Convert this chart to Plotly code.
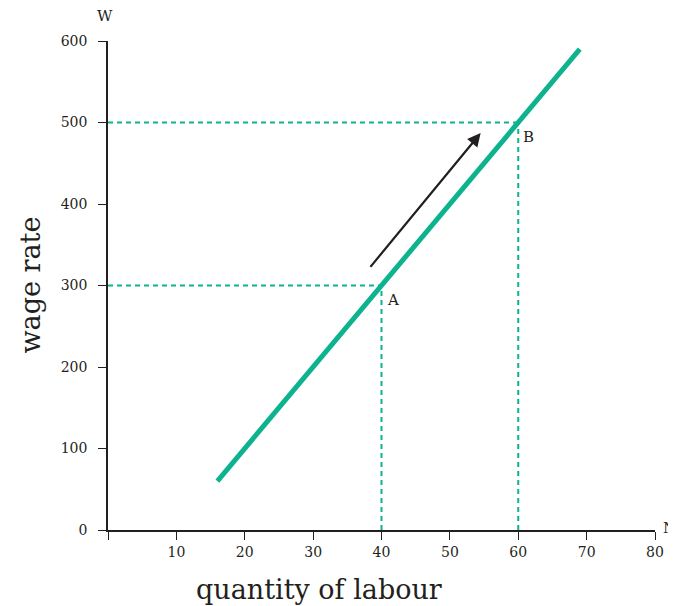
import plotly.graph_objects as go

# supply curve of labour
labour = [16, 69]
wage = [60, 590]

# points A and B
point_names = ["A", "B"]
point_labour = [40, 60]
point_wage = [300, 500]

# arrow showing movement along the curve
arrow_start = (38.2, 321)
arrow_end = (54.5, 487)

x_ticks = [0, 10, 20, 30, 40, 50, 60, 70, 80]
x_tick_labels = ["", "10", "20", "30", "40", "50", "60", "70", "80"]
y_ticks = [0, 100, 200, 300, 400, 500, 600]

teal = "#0db38e"
ink = "#231f20"
serif = "DejaVu Serif, Liberation Serif, serif"

fig = go.Figure()

# dashed guide lines to each axis
for px_, py_ in zip(point_labour, point_wage):
    fig.add_trace(go.Scatter(x=[0, px_], y=[py_, py_], mode="lines",
                             line=dict(color=teal, width=2, dash="5px,4px"),
                             hoverinfo="skip", showlegend=False))
    fig.add_trace(go.Scatter(x=[px_, px_], y=[0, py_], mode="lines",
                             line=dict(color=teal, width=2, dash="5px,4px"),
                             hoverinfo="skip", showlegend=False))

fig.add_trace(go.Scatter(x=labour, y=wage, mode="lines",
                         line=dict(color=teal, width=5), showlegend=False))

for name, px_, py_ in zip(point_names, point_labour, point_wage):
    fig.add_annotation(x=px_, y=py_, text=name, showarrow=False,
                       xanchor="left", yanchor="top", xshift=3, yshift=-3,
                       font=dict(family=serif, size=15, color=ink))

fig.add_annotation(x=arrow_end[0], y=arrow_end[1], ax=arrow_start[0], ay=arrow_start[1],
                   xref="x", yref="y", axref="x", ayref="y", text="",
                   showarrow=True, arrowhead=2, arrowsize=1.2, arrowwidth=2.2,
                   arrowcolor=ink)

# axis end labels
fig.add_annotation(x=0, y=1, xref="paper", yref="paper", text="W", showarrow=False,
                   xanchor="center", yanchor="bottom", xshift=-3, yshift=14,
                   font=dict(family=serif, size=15, color=ink))
fig.add_annotation(x=1, y=0, xref="paper", yref="paper", text="N", showarrow=False,
                   xanchor="left", yanchor="middle", xshift=6, yshift=2,
                   font=dict(family=serif, size=15, color=ink))

# axis titles
fig.add_annotation(x=0.385, y=0, xref="paper", yref="paper", text="quantity of labour",
                   showarrow=False, xanchor="center", yanchor="top", yshift=-42,
                   font=dict(family=serif, size=27, color=ink))
fig.add_annotation(x=0, y=0.5, xref="paper", yref="paper", text="wage rate",
                   showarrow=False, xanchor="center", yanchor="middle", xshift=-78,
                   textangle=-90, font=dict(family=serif, size=27, color=ink))

fig.update_xaxes(range=[0, 80], tickvals=x_ticks, ticktext=x_tick_labels,
                 showgrid=False, zeroline=False, showline=True, linecolor=ink,
                 linewidth=1.5, ticks="outside", ticklen=8, tickcolor=ink,
                 tickfont=dict(family=serif, size=14, color=ink), automargin=False)
fig.update_yaxes(range=[0, 600], tickvals=y_ticks,
                 showgrid=False, zeroline=False, showline=True, linecolor=ink,
                 linewidth=1.5, ticks="outside", ticklen=8, tickcolor=ink,
                 ticklabelstandoff=8,
                 tickfont=dict(family=serif, size=14, color=ink), automargin=False)

fig.update_layout(width=676, height=598, plot_bgcolor="white", paper_bgcolor="white",
                  margin=dict(l=100, r=29, t=33, b=76))

fig.write_html("out.html")
